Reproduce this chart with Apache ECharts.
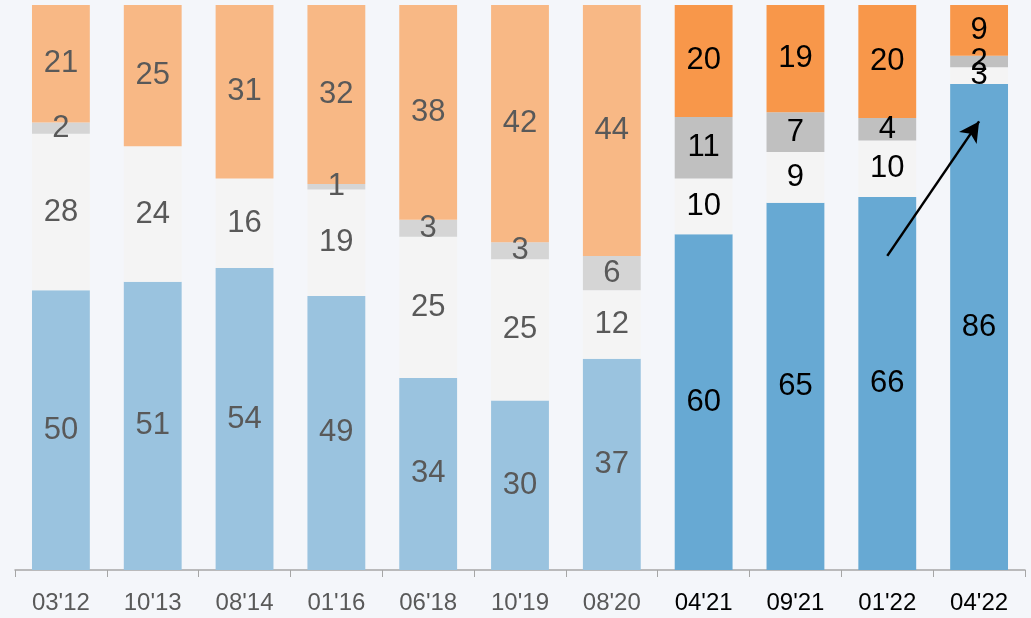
<!DOCTYPE html>
<html>
<head>
<meta charset="utf-8">
<script src="https://cdn.jsdelivr.net/npm/echarts@6/dist/echarts.min.js"></script>
<style>
  html, body { margin: 0; padding: 0; background: #f4f6fa; }
  #chart { width: 1031px; height: 618px; }
</style>
</head>
<body>
<div id="chart"></div>
<script>
const categories = ["03'12", "10'13", "08'14", "01'16", "06'18", "10'19", "08'20", "04'21", "09'21", "01'22", "04'22"]
const blueValues = [50, 51, 54, 49, 34, 30, 37, 60, 65, 66, 86]
const whiteValues = [28, 24, 16, 19, 25, 25, 12, 10, 9, 10, 3]
const grayValues = [2, 0, 0, 1, 3, 3, 6, 11, 7, 4, 2]
const orangeValues = [21, 25, 31, 32, 38, 42, 44, 20, 19, 20, 9]
// the last four surveys are highlighted
const highlightFrom = 7

const totals = categories.map((_, i) => blueValues[i] + whiteValues[i] + grayValues[i] + orangeValues[i])

const font = "'Liberation Sans Narrow', 'Arial Narrow', 'Liberation Sans', sans-serif"

function makeSeries(name, values, oldColor, newColor, extra) {
  return Object.assign({
    name,
    type: 'bar',
    stack: 'total',
    barWidth: '63%',
    data: values.map((v, i) => {
      const hi = i >= highlightFrom
      return {
        value: v / totals[i] * 100,
        raw: v,
        itemStyle: { color: hi ? newColor : oldColor },
        label: { color: hi ? '#000' : '#595959' }
      }
    }),
    label: {
      show: true,
      position: 'inside',
      fontFamily: font,
      fontSize: 31,
      formatter: p => p.data.raw === 0 ? '' : String(p.data.raw)
    }
  }, extra || {})
}

const chart = echarts.init(document.getElementById('chart'))
chart.setOption({
  backgroundColor: '#f4f6fa',
  animation: false,
  grid: { left: 15, right: 6, top: 5, bottom: 48 },
  xAxis: {
    type: 'category',
    data: categories,
    axisLine: { lineStyle: { color: '#a6a6a6', width: 1.5 } },
    axisTick: { show: true, length: 7, lineStyle: { color: '#a6a6a6' } },
    axisLabel: {
      fontFamily: font,
      fontSize: 24,
      margin: 21,
      color: (v, i) => i >= highlightFrom ? '#000' : '#595959'
    }
  },
  yAxis: { type: 'value', min: 0, max: 100, show: false, splitLine: { show: false } },
  series: [
    makeSeries('blue', blueValues, '#9ac3df', '#67a9d3', {
      markLine: {
        silent: true,
        symbol: ['none', 'arrow'],
        symbolSize: [16, 20],
        label: { show: false },
        lineStyle: { color: '#000', width: 2.5, type: 'solid' },
        data: [[{ coord: [9.1, 55.6] }, { coord: [10.11, 79.4] }]]
      }
    }),
    makeSeries('white', whiteValues, '#f4f4f4', '#f4f4f4'),
    makeSeries('gray', grayValues, '#d5d5d5', '#c0c0c0'),
    makeSeries('orange', orangeValues, '#f8b885', '#f8974a')
  ]
})
</script>
</body>
</html>
